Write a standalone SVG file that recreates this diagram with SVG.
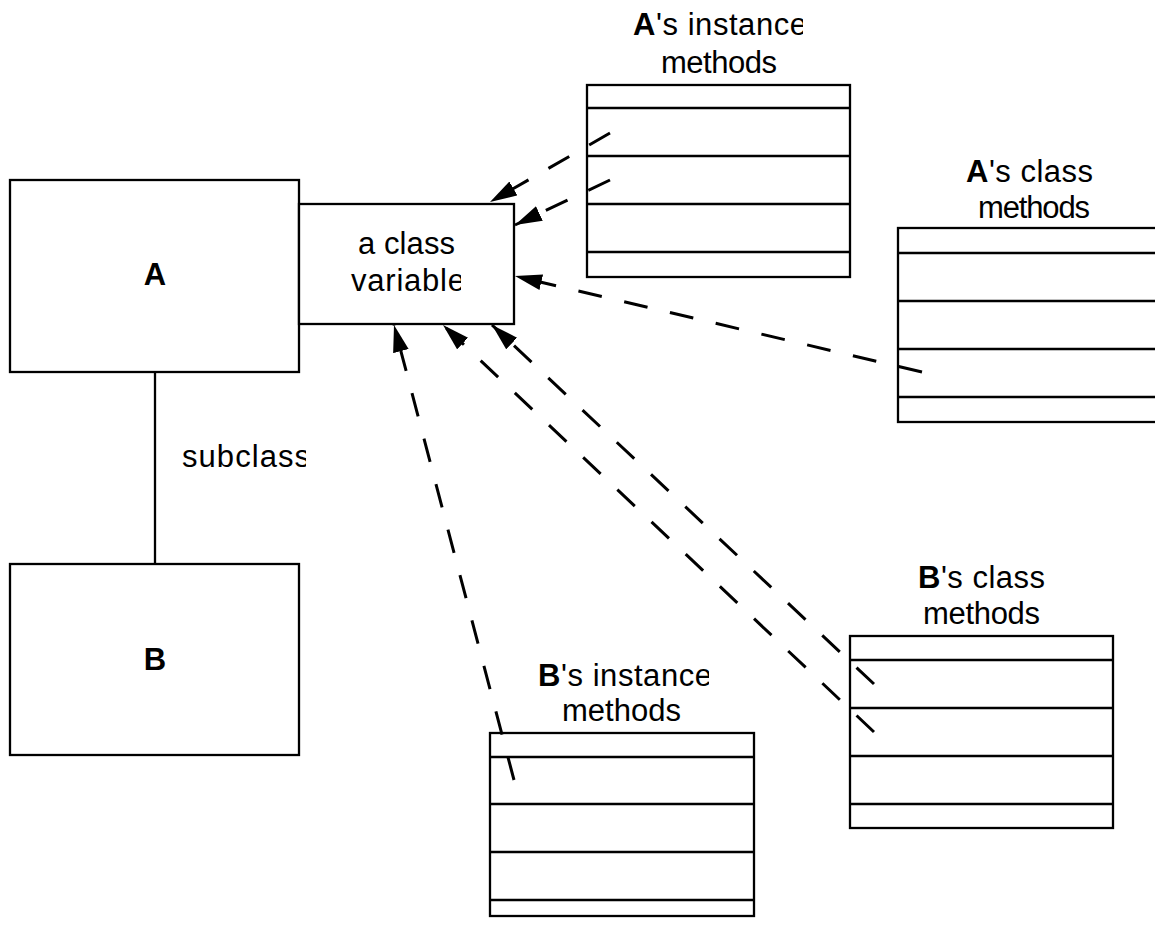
<svg xmlns="http://www.w3.org/2000/svg" width="1155" height="925" viewBox="0 0 1155 925">
<style>
.box{fill:#fff;stroke:#000;stroke-width:2.3}
.row{stroke:#000;stroke-width:2.3;fill:none}
.lbl{font-family:"Liberation Sans",Arial,Helvetica,sans-serif;font-size:31px;fill:#000}
.b{font-weight:bold}
.dash{fill:none;stroke:#000;stroke-width:3;stroke-dasharray:24 23;marker-end:url(#ah)}
.solid{fill:none;stroke:#000;stroke-width:2.3}
</style>
<defs>
<marker id="ah" markerUnits="userSpaceOnUse" markerWidth="30" markerHeight="18" refX="27" refY="8" orient="auto"><path d="M0,0 L27,8 L0,16 z" fill="#000"/></marker>
<clipPath id="c1"><rect x="0" y="0" width="803" height="60"/></clipPath>
<clipPath id="c2"><rect x="300" y="260" width="161" height="40"/></clipPath>
<clipPath id="c3"><rect x="160" y="430" width="146" height="50"/></clipPath>
<clipPath id="c4"><rect x="500" y="650" width="209" height="45"/></clipPath>
</defs>
<rect width="1155" height="925" fill="#fff"/>

<g id="classA">
<rect class="box" x="10" y="180" width="289" height="192"/>
<text class="lbl b" x="155" y="285" text-anchor="middle">A</text>
</g>
<g id="classB">
<rect class="box" x="10" y="564" width="289" height="191"/>
<text class="lbl b" x="155" y="670" text-anchor="middle">B</text>
</g>
<g id="classVariable">
<rect class="box" x="299" y="204" width="215" height="120"/>
<text class="lbl" x="358" y="254" textLength="97">a class</text>
<text class="lbl" x="351" y="291" textLength="114" clip-path="url(#c2)">variable</text>
</g>
<g id="subclassLabel">
<text class="lbl" x="182" y="467" textLength="128" clip-path="url(#c3)">subclass</text>
</g>

<g id="aInstanceMethods">
<text class="lbl" x="633" y="35" textLength="174" clip-path="url(#c1)"><tspan class="b">A</tspan>'s instance</text>
<text class="lbl" x="661" y="73" textLength="116">methods</text>
<rect class="box" x="587" y="85" width="263" height="192"/>
<path class="row" d="M587,108H850M587,156H850M587,204H850M587,252H850"/>
</g>

<g id="aClassMethods">
<text class="lbl" x="966" y="182" textLength="127"><tspan class="b">A</tspan>'s class</text>
<text class="lbl" x="978" y="218" textLength="112">methods</text>
<rect class="box" x="898" y="228" width="270" height="194"/>
<path class="row" d="M898,253H1168M898,301H1168M898,349H1168M898,397H1168"/>
</g>

<g id="bClassMethods">
<text class="lbl" x="918" y="588" textLength="127"><tspan class="b">B</tspan>'s class</text>
<text class="lbl" x="923" y="624" textLength="117">methods</text>
<rect class="box" x="850" y="636" width="263" height="192"/>
<path class="row" d="M850,660H1113M850,708H1113M850,756H1113M850,804H1113"/>
</g>

<g id="bInstanceMethods">
<text class="lbl" x="538" y="686" textLength="174" clip-path="url(#c4)"><tspan class="b">B</tspan>'s instance</text>
<text class="lbl" x="562" y="721" textLength="119">methods</text>
<rect class="box" x="490" y="733" width="264" height="183"/>
<path class="row" d="M490,757H754M490,804H754M490,852H754M490,900H754"/>
</g>

<g id="connectors">
<path class="solid" d="M155,372V564"/>
<path class="dash" d="M610,133L490,202"/>
<path class="dash" d="M610,180L515,225"/>
<path class="dash" d="M922,372L515,276"/>
<path class="dash" d="M514,780L394,325"/>
<path class="dash" d="M874,684L492,325"/>
<path class="dash" d="M874,732L443,325"/>
</g>
</svg>
